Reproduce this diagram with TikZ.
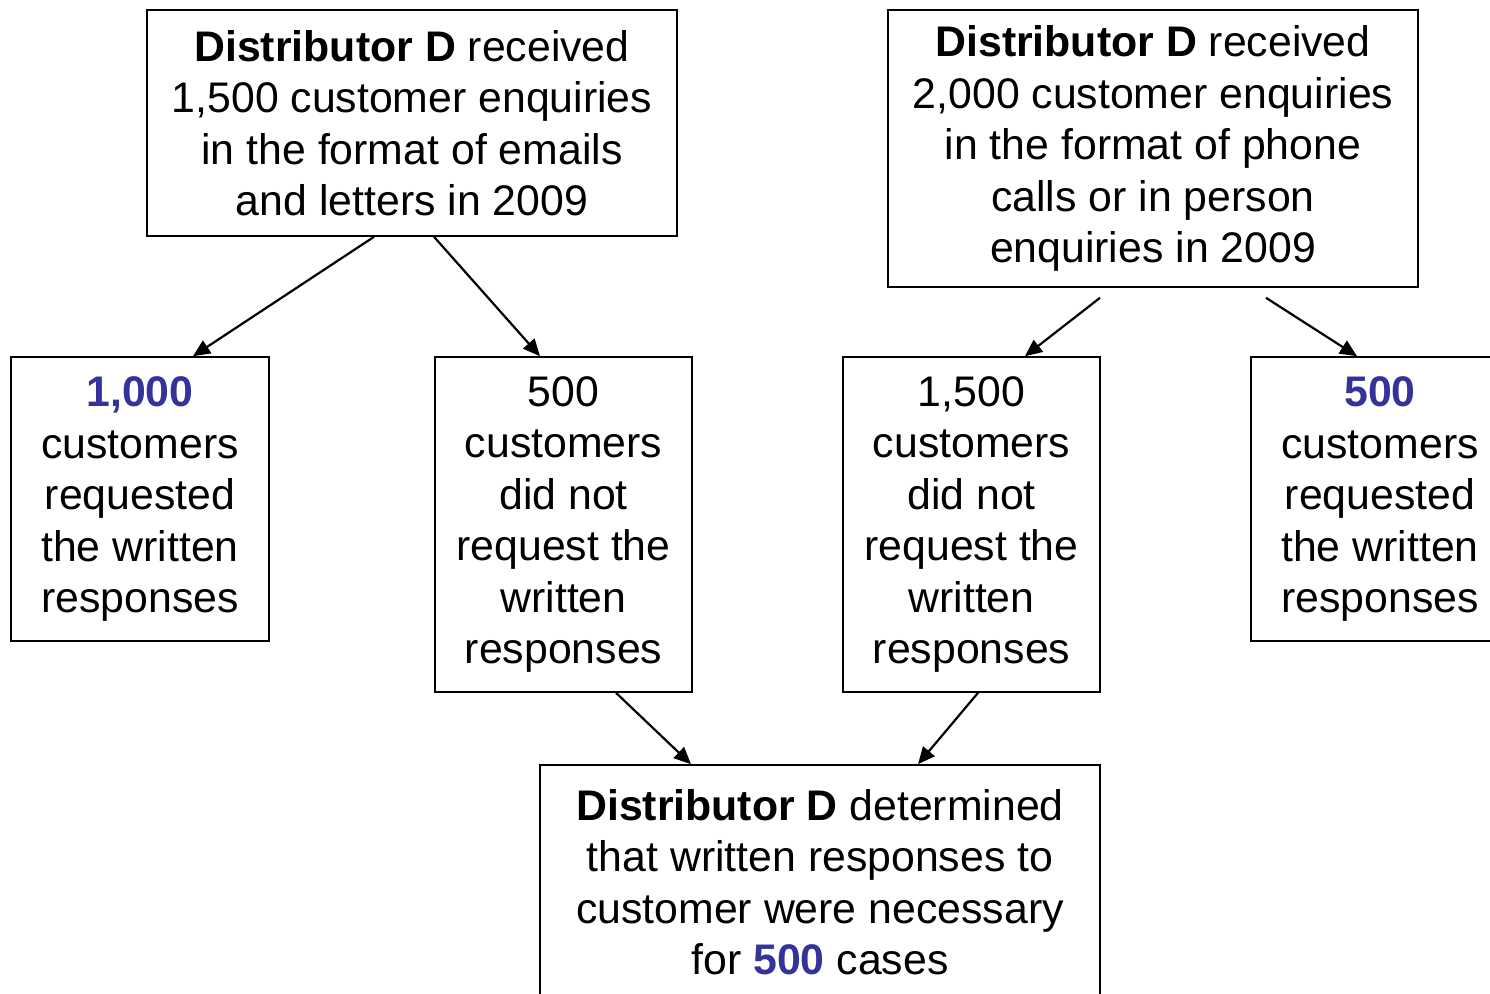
\documentclass[tikz,border=0pt]{standalone}
\usepackage{fontspec}
\setmainfont{Liberation Sans}
\usetikzlibrary{arrows.meta}
\definecolor{numblue}{RGB}{51,51,153}
\tikzset{
  box/.style={draw=black, line width=1.6pt, inner sep=0pt, align=center,
    font=\fontsize{42.8}{51.5}\selectfont},
  arr/.style={draw=black, line width=2.2pt,
    -{Triangle[length=17pt,width=15pt]}, shorten >=0pt},
}
\newcommand{\num}[1]{\textcolor{numblue}{\textbf{#1}}}
\begin{document}
\begin{tikzpicture}[x=1pt,y=-1pt]
  \useasboundingbox (0,0) rectangle (1490,993);
  \clip (0,0) rectangle (1490,993);

  % top row: the two sources of enquiries
  \node[box, minimum width=530pt, minimum height=226pt] (A) at (412,123)
    {\textbf{Distributor D} received\\1,500 customer enquiries\\in the format of emails\\and letters in 2009};
  \node[box, minimum width=530pt, minimum height=277pt] (B) at (1153,148.5)
    {\rule{0pt}{3pt}\textbf{Distributor D} received\\2,000 customer enquiries\\in the format of phone\\calls or in person\\enquiries in 2009};

  % middle row: split by whether written responses were requested
  \node[box, minimum width=258pt, minimum height=284pt] (C) at (140,499)
    {\num{1,000}\\customers\\requested\\the written\\responses};
  \node[box, minimum width=257pt, minimum height=335pt] (D) at (563.5,524.5)
    {500\\customers\\did not\\request the\\written\\responses};
  \node[box, minimum width=257pt, minimum height=335pt] (E) at (971.5,524.5)
    {1,500\\customers\\did not\\request the\\written\\responses};
  \node[box, minimum width=258pt, minimum height=284pt] (F) at (1380,499)
    {\num{500}\\customers\\requested\\the written\\responses};

  % bottom: outcome
  \node[box, minimum width=560pt, minimum height=234pt] (G) at (820,882)
    {\textbf{Distributor D} determined\\that written responses to\\customer were necessary\\for \num{500} cases};

  % connectors
  \draw[arr] ([xshift=-38pt]A.south) -- ([xshift=53pt]C.north);
  \draw[arr] ([xshift=22pt]A.south) -- ([xshift=-23.5pt]D.north);
  \draw[arr] ([xshift=-53pt,yshift=-10pt]B.south) -- ([xshift=53.5pt]E.north);
  \draw[arr] ([xshift=113pt,yshift=-10pt]B.south) -- ([xshift=-23pt]F.north);
  \draw[arr] ([xshift=52.5pt]D.south) -- ([xshift=-129pt]G.north);
  \draw[arr] ([xshift=6.5pt]E.south) -- ([xshift=98pt]G.north);
\end{tikzpicture}
\end{document}
